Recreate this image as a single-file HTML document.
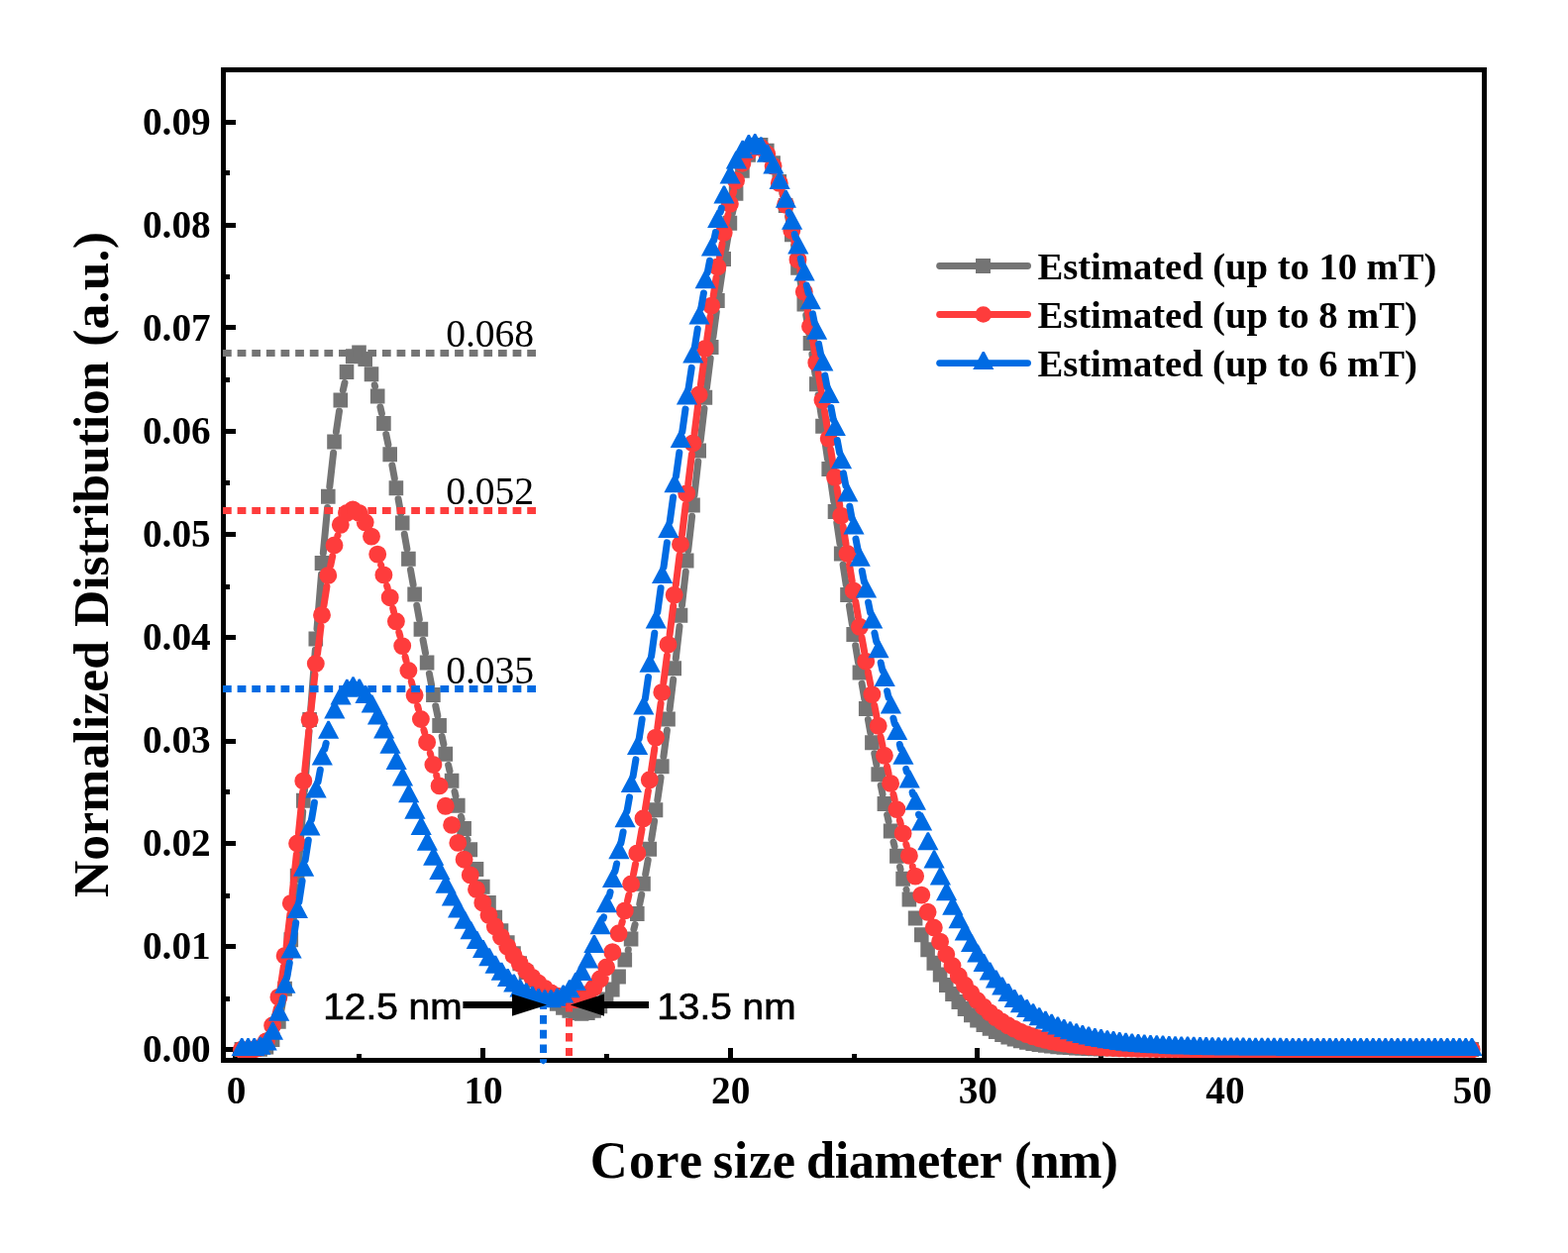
<!DOCTYPE html>
<html lang="en">
<head>
<meta charset="utf-8">
<title>Normalized Distribution vs Core size diameter</title>
<style>
html,body{margin:0;padding:0;background:#fff;}
body{width:1583px;height:1265px;overflow:hidden;}
svg{display:block;}
text{fill:#000;white-space:pre;}
.sb{font-family:"Liberation Serif",serif;font-weight:bold;}
.sr{font-family:"Liberation Serif",serif;font-weight:normal;}
.ss{font-family:"Liberation Sans",sans-serif;font-weight:normal;stroke:#000;stroke-width:0.7px;}
</style>
</head>
<body>
<svg width="1583" height="1265" viewBox="0 0 1583 1265">
<rect width="1583" height="1265" fill="#fff"/>

<g id="axes" fill="#000">
<path d="M223 68H1501V1073H223Z M228 73V1068H1496V73Z" fill-rule="evenodd"/>
<path d="M235 1058h5v10h-5zM360 1064h5v4h-5zM485 1058h5v10h-5zM610 1064h5v4h-5zM735 1058h5v10h-5zM860 1064h5v4h-5zM984 1058h5v10h-5zM1109 1064h5v4h-5zM1234 1058h5v10h-5zM1359 1064h5v4h-5zM1484 1058h5v10h-5zM228 1057h10v5h-10zM228 1006h4v5h-4zM228 953h10v5h-10zM228 902h4v5h-4zM228 849h10v5h-10zM228 797h4v5h-4zM228 746h10v5h-10zM228 693h4v5h-4zM228 641h10v5h-10zM228 590h4v5h-4zM228 537h10v5h-10zM228 485h4v5h-4zM228 433h10v5h-10zM228 381h4v5h-4zM228 328h10v5h-10zM228 277h4v5h-4zM228 225h10v5h-10zM228 172h4v5h-4zM228 121h10v5h-10z"/>
</g>
<clipPath id="plotclip"><rect x="228" y="73" width="1268" height="995"/></clipPath>
<g id="series" clip-path="url(#plotclip)">
<path d="M283.7 1021.3L285.9 1009.4M289.2 988.3L292.8 960.1M295.2 938.8L299.4 895.4M301.3 874.1L305.7 819.5M307.4 798.2L312 737.9M313.7 716.5L318.3 656.2M320 634.9L324.5 579.8M326.3 558.5L330.6 512.6M332.8 491.3L336.6 457.2M339.4 436L342.5 415.1M346.3 394.1L348 386.4M378.2 388.6L378.6 390.2M383.9 410.9L385.4 417.5M389.8 438.5L391.9 448.8M395.9 469.9L398.3 482.8M402.1 503.8L404.6 518.2M408.3 539.3L410.9 554.2M414.5 575.3L417.1 590.1M420.8 611.2L423.3 625.2M427.1 646.3L429.5 659.2M433.4 680.2L435.6 691.7M439.8 712.7L441.8 722.5M446.2 743.4L447.9 751.4M452.6 772.3L454 778.4M459 799.2L460 803.6M465.4 824.3L466.1 826.8M471.9 847.4L472.1 848.2M634.2 959.4L634.3 958.8M639.9 938.2L641.1 933.4M645.8 912.5L647.7 903.3M651.7 882.3L654.2 868.4M657.7 847.3L660.6 828.9M663.8 807.7L667.1 785M669.9 763.8L673.4 737.2M676.1 716L679.7 686.1M682.3 664.8L686 632.4M688.5 611.1L692.3 577.2M694.7 555.9L698.6 521.3M701 500.1L704.8 466.1M707.2 444.8L711 412.5M713.5 391.3L717.2 361.8M719.9 340.5L723.3 314.9M726.3 293.7L729.4 272.8M732.8 251.7L735.4 236.4M739.4 215.4L741.3 206.4M746.2 185.5L746.9 183.1M789.8 194.3L790.7 197.9M795.6 218.7L797.4 226.9M801.6 247.9L803.9 260.2M807.6 281.3L810.3 297M813.8 318.1L816.7 336.4M819.9 357.5L823 377.7M826.1 398.9L829.3 420.3M832.3 441.5L835.5 463.4M838.6 484.6L841.8 506.5M844.8 527.6L848 549M851.1 570.2L854.2 590.5M857.4 611.6L860.4 630.6M863.7 651.7L866.5 669M870.1 690.1L872.7 705.4M876.4 726.5L878.8 739.8M882.8 760.8L884.9 771.9M889.2 792.9L891 801.7M895.6 822.6L897.1 829.3M902 850.1L903.1 854.5M908.5 875.2L909.1 877.6M915 898.1L915.1 898.5" fill="none" stroke="#747474" stroke-width="7.0" stroke-linecap="round"/>
<path d="M236.6 1052.1h14.6v15h-14.6zM242.9 1052.1h14.6v15h-14.6zM249.1 1052.1h14.6v15h-14.6zM255.3 1051.7h14.6v15h-14.6zM261.6 1049.6h14.6v15h-14.6zM267.8 1041.9h14.6v15h-14.6zM274.1 1023.7h14.6v15h-14.6zM280.3 990.8h14.6v15h-14.6zM286.5 941.3h14.6v15h-14.6zM292.8 876.7h14.6v15h-14.6zM299 800.7h14.6v15h-14.6zM305.3 719.1h14.6v15h-14.6zM311.5 637.5h14.6v15h-14.6zM317.7 561h14.6v15h-14.6zM324 493.8h14.6v15h-14.6zM330.2 438.5h14.6v15h-14.6zM336.5 396.4h14.6v15h-14.6zM342.7 367.9h14.6v15h-14.6zM348.9 352.3h14.6v15h-14.6zM355.2 348.5h14.6v15h-14.6zM361.4 355.1h14.6v15h-14.6zM367.7 370.2h14.6v15h-14.6zM373.9 392.4h14.6v15h-14.6zM380.1 419.9h14.6v15h-14.6zM386.4 451.2h14.6v15h-14.6zM392.6 485.2h14.6v15h-14.6zM398.9 520.6h14.6v15h-14.6zM405.1 556.7h14.6v15h-14.6zM411.3 592.5h14.6v15h-14.6zM417.6 627.7h14.6v15h-14.6zM423.8 661.6h14.6v15h-14.6zM430.1 694.1h14.6v15h-14.6zM436.3 724.9h14.6v15h-14.6zM442.5 753.8h14.6v15h-14.6zM448.8 780.8h14.6v15h-14.6zM455 805.8h14.6v15h-14.6zM461.3 829h14.6v15h-14.6zM467.5 850.3h14.6v15h-14.6zM473.7 869.9h14.6v15h-14.6zM480 887.7h14.6v15h-14.6zM486.2 904h14.6v15h-14.6zM492.5 918.8h14.6v15h-14.6zM498.7 932.2h14.6v15h-14.6zM505 944.3h14.6v15h-14.6zM511.2 955.3h14.6v15h-14.6zM517.4 965.2h14.6v15h-14.6zM523.7 974.1h14.6v15h-14.6zM529.9 982.1h14.6v15h-14.6zM536.2 989.2h14.6v15h-14.6zM542.4 995.5h14.6v15h-14.6zM548.6 1001.1h14.6v15h-14.6zM554.9 1005.8h14.6v15h-14.6zM561.1 1009.8h14.6v15h-14.6zM567.4 1012.8h14.6v15h-14.6zM573.6 1014.9h14.6v15h-14.6zM579.8 1015.7h14.6v15h-14.6zM586.1 1015.1h14.6v15h-14.6zM592.3 1012.8h14.6v15h-14.6zM598.6 1008.3h14.6v15h-14.6zM604.8 1001.4h14.6v15h-14.6zM611 991.6h14.6v15h-14.6zM617.3 978.5h14.6v15h-14.6zM623.5 961.5h14.6v15h-14.6zM629.8 940.4h14.6v15h-14.6zM636 914.9h14.6v15h-14.6zM642.2 884.7h14.6v15h-14.6zM648.5 849.8h14.6v15h-14.6zM654.7 810.2h14.6v15h-14.6zM661 766.3h14.6v15h-14.6zM667.2 718.5h14.6v15h-14.6zM673.4 667.3h14.6v15h-14.6zM679.7 613.7h14.6v15h-14.6zM685.9 558.4h14.6v15h-14.6zM692.2 502.6h14.6v15h-14.6zM698.4 447.4h14.6v15h-14.6zM704.6 393.8h14.6v15h-14.6zM710.9 343h14.6v15h-14.6zM717.1 296.1h14.6v15h-14.6zM723.4 254.1h14.6v15h-14.6zM729.6 217.8h14.6v15h-14.6zM735.8 187.8h14.6v15h-14.6zM742.1 164.7h14.6v15h-14.6zM748.3 148.8h14.6v15h-14.6zM754.6 140.2h14.6v15h-14.6zM760.8 138.9h14.6v15h-14.6zM767 144.7h14.6v15h-14.6zM773.3 157.2h14.6v15h-14.6zM779.5 175.9h14.6v15h-14.6zM785.8 200.1h14.6v15h-14.6zM792 229.3h14.6v15h-14.6zM798.2 262.7h14.6v15h-14.6zM804.5 299.4h14.6v15h-14.6zM810.7 338.9h14.6v15h-14.6zM817 380.2h14.6v15h-14.6zM823.2 422.8h14.6v15h-14.6zM829.4 465.9h14.6v15h-14.6zM835.7 509h14.6v15h-14.6zM841.9 551.5h14.6v15h-14.6zM848.2 593h14.6v15h-14.6zM854.4 633.1h14.6v15h-14.6zM860.6 671.4h14.6v15h-14.6zM866.9 707.9h14.6v15h-14.6zM873.1 742.2h14.6v15h-14.6zM879.4 774.3h14.6v15h-14.6zM885.6 804.1h14.6v15h-14.6zM891.8 831.6h14.6v15h-14.6zM898.1 856.8h14.6v15h-14.6zM904.3 879.8h14.6v15h-14.6zM910.6 900.6h14.6v15h-14.6zM916.8 919.4h14.6v15h-14.6zM923 936.2h14.6v15h-14.6zM929.3 951.3h14.6v15h-14.6zM935.5 964.7h14.6v15h-14.6zM941.8 976.5h14.6v15h-14.6zM948 986.9h14.6v15h-14.6zM954.2 996.1h14.6v15h-14.6zM960.5 1004.1h14.6v15h-14.6zM966.7 1011.1h14.6v15h-14.6zM973 1017.2h14.6v15h-14.6zM979.2 1022.4h14.6v15h-14.6zM985.5 1026.9h14.6v15h-14.6zM991.7 1030.8h14.6v15h-14.6zM997.9 1034.1h14.6v15h-14.6zM1004.2 1037h14.6v15h-14.6zM1010.4 1039.4h14.6v15h-14.6zM1016.7 1041.4h14.6v15h-14.6zM1022.9 1043.2h14.6v15h-14.6zM1029.1 1044.7h14.6v15h-14.6zM1035.4 1045.9h14.6v15h-14.6zM1041.6 1047h14.6v15h-14.6zM1047.9 1047.8h14.6v15h-14.6zM1054.1 1048.6h14.6v15h-14.6zM1060.3 1049.2h14.6v15h-14.6zM1066.6 1049.7h14.6v15h-14.6zM1072.8 1050.1h14.6v15h-14.6zM1079.1 1050.5h14.6v15h-14.6zM1085.3 1050.8h14.6v15h-14.6zM1091.5 1051h14.6v15h-14.6zM1097.8 1051.2h14.6v15h-14.6zM1104 1051.4h14.6v15h-14.6zM1110.3 1051.5h14.6v15h-14.6zM1116.5 1051.6h14.6v15h-14.6zM1122.7 1051.7h14.6v15h-14.6zM1129 1051.8h14.6v15h-14.6zM1135.2 1051.8h14.6v15h-14.6zM1141.5 1051.9h14.6v15h-14.6zM1147.7 1051.9h14.6v15h-14.6zM1153.9 1052h14.6v15h-14.6zM1160.2 1052h14.6v15h-14.6zM1166.4 1052h14.6v15h-14.6zM1172.7 1052h14.6v15h-14.6zM1178.9 1052h14.6v15h-14.6zM1185.1 1052h14.6v15h-14.6zM1191.4 1052.1h14.6v15h-14.6zM1197.6 1052.1h14.6v15h-14.6zM1203.9 1052.1h14.6v15h-14.6zM1210.1 1052.1h14.6v15h-14.6zM1216.3 1052.1h14.6v15h-14.6zM1222.6 1052.1h14.6v15h-14.6zM1228.8 1052.1h14.6v15h-14.6zM1235.1 1052.1h14.6v15h-14.6zM1241.3 1052.1h14.6v15h-14.6zM1247.5 1052.1h14.6v15h-14.6zM1253.8 1052.1h14.6v15h-14.6zM1260 1052.1h14.6v15h-14.6zM1266.3 1052.1h14.6v15h-14.6zM1272.5 1052.1h14.6v15h-14.6zM1278.7 1052.1h14.6v15h-14.6zM1285 1052.1h14.6v15h-14.6zM1291.2 1052.1h14.6v15h-14.6zM1297.5 1052.1h14.6v15h-14.6zM1303.7 1052.1h14.6v15h-14.6zM1309.9 1052.1h14.6v15h-14.6zM1316.2 1052.1h14.6v15h-14.6zM1322.4 1052.1h14.6v15h-14.6zM1328.7 1052.1h14.6v15h-14.6zM1334.9 1052.1h14.6v15h-14.6zM1341.1 1052.1h14.6v15h-14.6zM1347.4 1052.1h14.6v15h-14.6zM1353.6 1052.1h14.6v15h-14.6zM1359.9 1052.1h14.6v15h-14.6zM1366.1 1052.1h14.6v15h-14.6zM1372.3 1052.1h14.6v15h-14.6zM1378.6 1052.1h14.6v15h-14.6zM1384.8 1052.1h14.6v15h-14.6zM1391.1 1052.1h14.6v15h-14.6zM1397.3 1052.1h14.6v15h-14.6zM1403.5 1052.1h14.6v15h-14.6zM1409.8 1052.1h14.6v15h-14.6zM1416 1052.1h14.6v15h-14.6zM1422.3 1052.1h14.6v15h-14.6zM1428.5 1052.1h14.6v15h-14.6zM1434.7 1052.1h14.6v15h-14.6zM1441 1052.1h14.6v15h-14.6zM1447.2 1052.1h14.6v15h-14.6zM1453.5 1052.1h14.6v15h-14.6zM1459.7 1052.1h14.6v15h-14.6zM1465.9 1052.1h14.6v15h-14.6zM1472.2 1052.1h14.6v15h-14.6zM1478.4 1052.1h14.6v15h-14.6z" fill="#747474"/>
<path d="M277.7 1025.4L279.4 1017.8M283.2 996.8L286.3 976.1M289.2 954.9L292.9 923.1M295.2 901.9L299.3 862.8M301.4 841.5L305.6 799.6M307.7 778.3L311.8 737.9M314 716.6L317.9 681.3M320.5 660L324 632.2M327 611L329.9 592.1M333.7 571L335.7 561.6M340.9 540.9L341 540.6M384.6 570.4L384.7 570.7M390.6 591.3L391.2 593.5M396.7 614.2L397.5 617.6M402.8 638.3L403.9 642.3M409.1 663.1L410.1 667.3M415.3 688L416.3 692M421.6 712.7L422.5 716.2M427.9 736.9L428.7 739.7M434.3 760.3L434.8 762.2M440.7 782.8L440.9 783.8M627.7 932.6L628.3 930.3M633.5 909.6L634.9 903.5M639.5 882.6L641.5 872.5M645.5 851.5L648 837.4M651.5 816.3L654.4 798.4M657.6 777.3L660.8 755.8M663.8 734.6L667.1 710.1M669.9 688.9L673.4 661.9M676.1 640.7L679.7 611.8M682.3 590.6L686 560.7M688.6 539.5L692.2 509.4M694.8 488.2L698.4 458.8M701.1 437.5L704.6 409.7M707.4 388.5L710.8 363.1M713.8 341.9L717 319.9M720.2 298.7L723 280.6M726.6 259.5L729.1 246.1M733.2 225.1L735 216.8M739.9 196L740.7 193.2M790.1 195.7L790.4 197M795.9 217.7L797.1 222.9M801.8 243.7L803.6 252.3M807.9 273.3L810.1 284.7M814 305.8L816.4 319.6M820.1 340.6L822.8 356.2M826.3 377.3L829.1 394.2M832.5 415.3L835.3 432.8M838.7 454L841.6 471.8M845 493L847.8 510.7M851.2 531.8L854 549M857.5 570.1L860.2 586.5M863.8 607.6L866.4 622.8M870.1 643.9L872.6 657.8M876.4 678.8L878.8 691.2M882.8 712.2L884.9 722.9M889.1 743.9L891 752.9M895.5 773.8L897.1 781M901.9 801.9L903.2 807.3M908.3 828.1L909.3 831.7M914.8 852.3L915.3 854.2M921.3 874.8L921.3 875" fill="none" stroke="#fe3c3c" stroke-width="7.0" stroke-linecap="round"/>
<path d="M243.9 1059.6h0M250.2 1059.6h0M256.4 1059.4h0M262.6 1057.7h0M268.9 1051.2h0M275.1 1035.3h0M281.4 1006.7h0M287.6 964.9h0M293.8 911.9h0M300.1 851.5h0M306.3 788.4h0M312.6 726.7h0M318.8 670h0M325 620.9h0M331.3 580.9h0M337.5 550.5h0M343.8 529.8h0M350 518h0M356.2 514.4h0M362.5 517.9h0M368.7 527.3h0M375 541.6h0M381.2 559.6h0M387.4 580.4h0M393.7 603.2h0M399.9 627.3h0M406.2 652.1h0M412.4 677h0M418.6 701.8h0M424.9 726h0M431.1 749.4h0M437.4 772h0M443.6 793.4h0M449.8 813.8h0M456.1 832.9h0M462.3 850.9h0M468.6 867.7h0M474.8 883.4h0M481 897.9h0M487.3 911.4h0M493.5 923.8h0M499.8 935.3h0M506 945.9h0M512.3 955.6h0M518.5 964.5h0M524.7 972.6h0M531 980h0M537.2 986.6h0M543.5 992.5h0M549.7 997.7h0M555.9 1002.1h0M562.2 1005.5h0M568.4 1008h0M574.7 1009.2h0M580.9 1009.1h0M587.1 1007.2h0M593.4 1003.4h0M599.6 997.2h0M605.9 988.3h0M612.1 976.5h0M618.3 961.2h0M624.6 942.3h0M630.8 919.4h0M637.1 892.5h0M643.3 861.4h0M649.5 826.3h0M655.8 787.3h0M662 744.6h0M668.3 698.9h0M674.5 650.7h0M680.7 600.6h0M687 549.5h0M693.2 498.2h0M699.5 447.5h0M705.7 398.5h0M711.9 351.9h0M718.2 308.7h0M724.4 269.5h0M730.7 235h0M736.9 205.8h0M743.1 182.3h0M749.4 164.7h0M755.6 153.3h0M761.9 148.1h0M768.1 148.9h0M774.3 155.5h0M780.6 167.6h0M786.8 184.9h0M793.1 206.7h0M799.3 232.7h0M805.5 262.2h0M811.8 294.6h0M818 329.5h0M824.3 366.2h0M830.5 404.1h0M836.7 442.8h0M843 481.8h0M849.2 520.6h0M855.5 559h0M861.7 596.4h0M867.9 632.8h0M874.2 667.7h0M880.4 701.1h0M886.7 732.8h0M892.9 762.8h0M899.1 790.9h0M905.4 817.1h0M911.6 841.4h0M917.9 863.9h0M924.1 884.6h0M930.3 903.6h0M936.6 920.8h0M942.8 936.5h0M949.1 950.7h0M955.3 963.5h0M961.5 975h0M967.8 985.3h0M974 994.5h0M980.3 1002.7h0M986.5 1010h0M992.8 1016.4h0M999 1022.1h0M1005.2 1027.1h0M1011.5 1031.5h0M1017.7 1035.3h0M1024 1038.6h0M1030.2 1041.6h0M1036.4 1044.1h0M1042.7 1046.3h0M1048.9 1048.2h0M1055.2 1049.9h0M1061.4 1051.3h0M1067.6 1052.5h0M1073.9 1053.6h0M1080.1 1054.5h0M1086.4 1055.2h0M1092.6 1055.9h0M1098.8 1056.5h0M1105.1 1056.9h0M1111.3 1057.3h0M1117.6 1057.7h0M1123.8 1058h0M1130 1058.2h0M1136.3 1058.5h0M1142.5 1058.6h0M1148.8 1058.8h0M1155 1058.9h0M1161.2 1059h0M1167.5 1059.1h0M1173.7 1059.2h0M1180 1059.3h0M1186.2 1059.3h0M1192.4 1059.4h0M1198.7 1059.4h0M1204.9 1059.4h0M1211.2 1059.5h0M1217.4 1059.5h0M1223.6 1059.5h0M1229.9 1059.5h0M1236.1 1059.5h0M1242.4 1059.5h0M1248.6 1059.5h0M1254.8 1059.6h0M1261.1 1059.6h0M1267.3 1059.6h0M1273.6 1059.6h0M1279.8 1059.6h0M1286 1059.6h0M1292.3 1059.6h0M1298.5 1059.6h0M1304.8 1059.6h0M1311 1059.6h0M1317.2 1059.6h0M1323.5 1059.6h0M1329.7 1059.6h0M1336 1059.6h0M1342.2 1059.6h0M1348.4 1059.6h0M1354.7 1059.6h0M1360.9 1059.6h0M1367.2 1059.6h0M1373.4 1059.6h0M1379.6 1059.6h0M1385.9 1059.6h0M1392.1 1059.6h0M1398.4 1059.6h0M1404.6 1059.6h0M1410.8 1059.6h0M1417.1 1059.6h0M1423.3 1059.6h0M1429.6 1059.6h0M1435.8 1059.6h0M1442 1059.6h0M1448.3 1059.6h0M1454.5 1059.6h0M1460.8 1059.6h0M1467 1059.6h0M1473.2 1059.6h0M1479.5 1059.6h0M1485.7 1059.6h0" fill="none" stroke="#fe3c3c" stroke-width="17.9" stroke-linecap="round"/>
<path d="M284 1014.5L285.6 1007.4M289.8 986.5L292.3 972.1M295.8 951L298.7 931.7M301.9 910.6L305.1 889.5M308.2 868.3L311.3 848.2M314.6 827.1L317.4 810.3M321.1 789.2L323.3 777.3M327.8 756.4L329.2 750.4M609.1 927.2L609.5 925.8M615 905.2L616.1 900.6M620.9 879.7L622.6 872M626.9 851L629.1 840M633 819L635.5 804.9M639.1 783.8L641.9 766.9M645.2 745.7L648.2 726.3M651.4 705.2L654.5 683.6M657.6 662.4L660.8 639.3M663.8 618.1L667.1 593.8M670 572.6L673.4 547.9M676.2 526.7L679.6 502M682.5 480.8L685.8 456.9M688.8 435.7L692 413.1M695.1 392L698.2 371.4M701.4 350.2L704.3 332.1M707.8 311L710.4 296M714.3 274.9L716.5 263.3M720.8 242.4L722.4 234.6M727.4 213.8L728.3 210.1M796.3 214.3L796.7 215.7M802.2 236.3L803.2 240.2M808.3 261L809.7 267.1M814.3 288L816.1 296M820.5 316.9L822.4 326.4M826.6 347.4L828.7 358.1M832.8 379.1L835 390.6M839 411.6L841.3 423.6M845.3 444.6L847.6 456.9M851.5 477.9L853.8 490.1M857.8 511.2L860 523.1M864 544.1L866.2 555.5M870.3 576.5L872.4 587.3M876.6 608.3L878.6 618.2M882.9 639.1L884.8 648M889.2 669L890.9 676.8M895.6 697.7L897.1 704.4M901.9 725.2L903.2 730.7M908.3 751.5L909.3 755.6M914.7 776.4L915.4 779.3M921.1 799.9L921.5 801.6M927.5 822.2L927.6 822.6" fill="none" stroke="#006be3" stroke-width="7.0" stroke-linecap="round"/>
<path d="M243.2 1048h2l9.6 18h-21.2zM249.5 1048h2l9.6 18h-21.2zM255.7 1047.9h2l9.6 18h-21.2zM261.9 1046.8h2l9.6 18h-21.2zM268.2 1042.4h2l9.6 18h-21.2zM274.4 1031.8h2l9.6 18h-21.2zM280.7 1012.7h2l9.6 18h-21.2zM286.9 984.8h2l9.6 18h-21.2zM293.1 949.4h2l9.6 18h-21.2zM299.4 909h2l9.6 18h-21.2zM305.6 866.7h2l9.6 18h-21.2zM311.9 825.4h2l9.6 18h-21.2zM318.1 787.5h2l9.6 18h-21.2zM324.3 754.6h2l9.6 18h-21.2zM330.6 727.8h2l9.6 18h-21.2zM336.8 707.5h2l9.6 18h-21.2zM343.1 693.6h2l9.6 18h-21.2zM349.3 685.7h2l9.6 18h-21.2zM355.5 683.3h2l9.6 18h-21.2zM361.8 685.6h2l9.6 18h-21.2zM368 691.9h2l9.6 18h-21.2zM374.3 701.5h2l9.6 18h-21.2zM380.5 713.5h2l9.6 18h-21.2zM386.7 727.5h2l9.6 18h-21.2zM393 742.8h2l9.6 18h-21.2zM399.2 758.9h2l9.6 18h-21.2zM405.5 775.5h2l9.6 18h-21.2zM411.7 792.2h2l9.6 18h-21.2zM417.9 808.8h2l9.6 18h-21.2zM424.2 825h2l9.6 18h-21.2zM430.4 840.7h2l9.6 18h-21.2zM436.7 855.7h2l9.6 18h-21.2zM442.9 870.1h2l9.6 18h-21.2zM449.1 883.7h2l9.6 18h-21.2zM455.4 896.5h2l9.6 18h-21.2zM461.6 908.6h2l9.6 18h-21.2zM467.9 919.8h2l9.6 18h-21.2zM474.1 930.3h2l9.6 18h-21.2zM480.3 940h2l9.6 18h-21.2zM486.6 949h2l9.6 18h-21.2zM492.8 957.2h2l9.6 18h-21.2zM499.1 964.8h2l9.6 18h-21.2zM505.3 971.7h2l9.6 18h-21.2zM511.6 978h2l9.6 18h-21.2zM517.8 983.5h2l9.6 18h-21.2zM524 988.4h2l9.6 18h-21.2zM530.3 992.5h2l9.6 18h-21.2zM536.5 995.7h2l9.6 18h-21.2zM542.8 998h2l9.6 18h-21.2zM549 999.2h2l9.6 18h-21.2zM555.2 999.2h2l9.6 18h-21.2zM561.5 997.7h2l9.6 18h-21.2zM567.7 994.5h2l9.6 18h-21.2zM574 989.3h2l9.6 18h-21.2zM580.2 981.9h2l9.6 18h-21.2zM586.4 972.1h2l9.6 18h-21.2zM592.7 959.5h2l9.6 18h-21.2zM598.9 944h2l9.6 18h-21.2zM605.2 925.3h2l9.6 18h-21.2zM611.4 903.3h2l9.6 18h-21.2zM617.6 878h2l9.6 18h-21.2zM623.9 849.3h2l9.6 18h-21.2zM630.1 817.3h2l9.6 18h-21.2zM636.4 782.1h2l9.6 18h-21.2zM642.6 744.1h2l9.6 18h-21.2zM648.8 703.5h2l9.6 18h-21.2zM655.1 660.8h2l9.6 18h-21.2zM661.3 616.5h2l9.6 18h-21.2zM667.6 571h2l9.6 18h-21.2zM673.8 525.1h2l9.6 18h-21.2zM680 479.2h2l9.6 18h-21.2zM686.3 434.1h2l9.6 18h-21.2zM692.5 390.4h2l9.6 18h-21.2zM698.8 348.6h2l9.6 18h-21.2zM705 309.4h2l9.6 18h-21.2zM711.2 273.2h2l9.6 18h-21.2zM717.5 240.6h2l9.6 18h-21.2zM723.7 212h2l9.6 18h-21.2zM730 187.6h2l9.6 18h-21.2zM736.2 167.6h2l9.6 18h-21.2zM742.4 152.4h2l9.6 18h-21.2zM748.7 141.8h2l9.6 18h-21.2zM754.9 136h2l9.6 18h-21.2zM761.2 134.9h2l9.6 18h-21.2zM767.4 138.2h2l9.6 18h-21.2zM773.6 145.8h2l9.6 18h-21.2zM779.9 157.5h2l9.6 18h-21.2zM786.1 173h2l9.6 18h-21.2zM792.4 191.8h2l9.6 18h-21.2zM798.6 213.8h2l9.6 18h-21.2zM804.8 238.4h2l9.6 18h-21.2zM811.1 265.4h2l9.6 18h-21.2zM817.3 294.2h2l9.6 18h-21.2zM823.6 324.7h2l9.6 18h-21.2zM829.8 356.4h2l9.6 18h-21.2zM836 388.9h2l9.6 18h-21.2zM842.3 421.9h2l9.6 18h-21.2zM848.5 455.2h2l9.6 18h-21.2zM854.8 488.4h2l9.6 18h-21.2zM861 521.4h2l9.6 18h-21.2zM867.2 553.8h2l9.6 18h-21.2zM873.5 585.6h2l9.6 18h-21.2zM879.7 616.4h2l9.6 18h-21.2zM886 646.3h2l9.6 18h-21.2zM892.2 675.1h2l9.6 18h-21.2zM898.4 702.6h2l9.6 18h-21.2zM904.7 728.9h2l9.6 18h-21.2zM910.9 753.8h2l9.6 18h-21.2zM917.2 777.4h2l9.6 18h-21.2zM923.4 799.7h2l9.6 18h-21.2zM929.6 820.6h2l9.6 18h-21.2zM935.9 840.2h2l9.6 18h-21.2zM942.1 858.4h2l9.6 18h-21.2zM948.4 875.4h2l9.6 18h-21.2zM954.6 891.2h2l9.6 18h-21.2zM960.8 905.8h2l9.6 18h-21.2zM967.1 919.2h2l9.6 18h-21.2zM973.3 931.6h2l9.6 18h-21.2zM979.6 943h2l9.6 18h-21.2zM985.8 953.4h2l9.6 18h-21.2zM992.1 962.9h2l9.6 18h-21.2zM998.3 971.6h2l9.6 18h-21.2zM1004.5 979.4h2l9.6 18h-21.2zM1010.8 986.6h2l9.6 18h-21.2zM1017 993.1h2l9.6 18h-21.2zM1023.3 999h2l9.6 18h-21.2zM1029.5 1004.3h2l9.6 18h-21.2zM1035.7 1009h2l9.6 18h-21.2zM1042 1013.3h2l9.6 18h-21.2zM1048.2 1017.2h2l9.6 18h-21.2zM1054.5 1020.7h2l9.6 18h-21.2zM1060.7 1023.8h2l9.6 18h-21.2zM1066.9 1026.5h2l9.6 18h-21.2zM1073.2 1029h2l9.6 18h-21.2zM1079.4 1031.2h2l9.6 18h-21.2zM1085.7 1033.2h2l9.6 18h-21.2zM1091.9 1034.9h2l9.6 18h-21.2zM1098.1 1036.5h2l9.6 18h-21.2zM1104.4 1037.9h2l9.6 18h-21.2zM1110.6 1039.1h2l9.6 18h-21.2zM1116.9 1040.2h2l9.6 18h-21.2zM1123.1 1041.1h2l9.6 18h-21.2zM1129.3 1042h2l9.6 18h-21.2zM1135.6 1042.7h2l9.6 18h-21.2zM1141.8 1043.4h2l9.6 18h-21.2zM1148.1 1043.9h2l9.6 18h-21.2zM1154.3 1044.4h2l9.6 18h-21.2zM1160.5 1044.9h2l9.6 18h-21.2zM1166.8 1045.3h2l9.6 18h-21.2zM1173 1045.6h2l9.6 18h-21.2zM1179.3 1045.9h2l9.6 18h-21.2zM1185.5 1046.2h2l9.6 18h-21.2zM1191.7 1046.4h2l9.6 18h-21.2zM1198 1046.6h2l9.6 18h-21.2zM1204.2 1046.8h2l9.6 18h-21.2zM1210.5 1047h2l9.6 18h-21.2zM1216.7 1047.1h2l9.6 18h-21.2zM1222.9 1047.2h2l9.6 18h-21.2zM1229.2 1047.3h2l9.6 18h-21.2zM1235.4 1047.4h2l9.6 18h-21.2zM1241.7 1047.5h2l9.6 18h-21.2zM1247.9 1047.6h2l9.6 18h-21.2zM1254.1 1047.6h2l9.6 18h-21.2zM1260.4 1047.7h2l9.6 18h-21.2zM1266.6 1047.7h2l9.6 18h-21.2zM1272.9 1047.7h2l9.6 18h-21.2zM1279.1 1047.8h2l9.6 18h-21.2zM1285.3 1047.8h2l9.6 18h-21.2zM1291.6 1047.8h2l9.6 18h-21.2zM1297.8 1047.9h2l9.6 18h-21.2zM1304.1 1047.9h2l9.6 18h-21.2zM1310.3 1047.9h2l9.6 18h-21.2zM1316.5 1047.9h2l9.6 18h-21.2zM1322.8 1047.9h2l9.6 18h-21.2zM1329 1047.9h2l9.6 18h-21.2zM1335.3 1047.9h2l9.6 18h-21.2zM1341.5 1047.9h2l9.6 18h-21.2zM1347.7 1048h2l9.6 18h-21.2zM1354 1048h2l9.6 18h-21.2zM1360.2 1048h2l9.6 18h-21.2zM1366.5 1048h2l9.6 18h-21.2zM1372.7 1048h2l9.6 18h-21.2zM1378.9 1048h2l9.6 18h-21.2zM1385.2 1048h2l9.6 18h-21.2zM1391.4 1048h2l9.6 18h-21.2zM1397.7 1048h2l9.6 18h-21.2zM1403.9 1048h2l9.6 18h-21.2zM1410.1 1048h2l9.6 18h-21.2zM1416.4 1048h2l9.6 18h-21.2zM1422.6 1048h2l9.6 18h-21.2zM1428.9 1048h2l9.6 18h-21.2zM1435.1 1048h2l9.6 18h-21.2zM1441.3 1048h2l9.6 18h-21.2zM1447.6 1048h2l9.6 18h-21.2zM1453.8 1048h2l9.6 18h-21.2zM1460.1 1048h2l9.6 18h-21.2zM1466.3 1048h2l9.6 18h-21.2zM1472.5 1048h2l9.6 18h-21.2zM1478.8 1048h2l9.6 18h-21.2zM1485 1048h2l9.6 18h-21.2z" fill="#006be3"/>
</g>
<g id="guides" fill="none" stroke-width="7">
<path d="M225 356.5H541" stroke="#747474" stroke-dasharray="8.75 5.88"/>
<path d="M225 515.5H541" stroke="#fe3c3c" stroke-dasharray="8.75 5.88"/>
<path d="M225 695.5H541" stroke="#006be3" stroke-dasharray="8.75 5.88"/>
<path d="M548.5 1010.3V1063" stroke="#006be3" stroke-dasharray="8.8 5.9"/>
<path d="M574.5 1013V1066" stroke="#fe3c3c" stroke-dasharray="8.6 6.4"/>
</g>
<g id="arrows" fill="#000" stroke="none">
<rect x="467.4" y="1011" width="52" height="7"/>
<path d="M517 1003.6L552 1014.6L517 1025.8Z"/>
<rect x="608" y="1011" width="47" height="7"/>
<path d="M610 1003.6L575.8 1014.6L610 1025.8Z"/>
</g>
<path d="M545 1069.2h7v3l-3.5 2.2l-3.5 -2.2z" fill="#006be3"/>
<g id="legend">
<path d="M948.6 268.5H1037.6" stroke="#747474" stroke-width="6.8" stroke-linecap="round" fill="none"/>
<rect x="985" y="261.0" width="15" height="15" fill="#747474"/>
<path d="M948.6 317.5H1037.6" stroke="#fe3c3c" stroke-width="6.8" stroke-linecap="round" fill="none"/>
<circle cx="992.7" cy="317.5" r="8.3" fill="#fe3c3c"/>
<path d="M948.6 366.6H1037.6" stroke="#006be3" stroke-width="6.8" stroke-linecap="round" fill="none"/>
<path d="M991.8 355h2l9.6 18h-21.2z" fill="#006be3"/>
</g>
<g id="labels">
<text x="143.9" y="1072.0" class="sb" font-size="39.3" textLength="68.8" lengthAdjust="spacing">0.00</text>
<text x="143.9" y="968.0" class="sb" font-size="39.3" textLength="68.8" lengthAdjust="spacing">0.01</text>
<text x="143.9" y="864.0" class="sb" font-size="39.3" textLength="68.8" lengthAdjust="spacing">0.02</text>
<text x="143.9" y="759.9" class="sb" font-size="39.3" textLength="68.8" lengthAdjust="spacing">0.03</text>
<text x="143.9" y="655.9" class="sb" font-size="39.3" textLength="68.8" lengthAdjust="spacing">0.04</text>
<text x="143.9" y="551.9" class="sb" font-size="39.3" textLength="68.8" lengthAdjust="spacing">0.05</text>
<text x="143.9" y="447.9" class="sb" font-size="39.3" textLength="68.8" lengthAdjust="spacing">0.06</text>
<text x="143.9" y="343.9" class="sb" font-size="39.3" textLength="68.8" lengthAdjust="spacing">0.07</text>
<text x="143.9" y="239.8" class="sb" font-size="39.3" textLength="68.8" lengthAdjust="spacing">0.08</text>
<text x="143.9" y="135.8" class="sb" font-size="39.3" textLength="68.8" lengthAdjust="spacing">0.09</text>
<text x="238.5" y="1114.2" class="sb" font-size="39.3" text-anchor="middle">0</text>
<text x="488.1" y="1114.2" class="sb" font-size="39.3" text-anchor="middle">10</text>
<text x="737.7" y="1114.2" class="sb" font-size="39.3" text-anchor="middle">20</text>
<text x="987.3" y="1114.2" class="sb" font-size="39.3" text-anchor="middle">30</text>
<text x="1236.9" y="1114.2" class="sb" font-size="39.3" text-anchor="middle">40</text>
<text x="1486.5" y="1114.2" class="sb" font-size="39.3" text-anchor="middle">50</text>
<text y="1188.6" class="sb" font-size="52.5"><tspan x="595.8" style="letter-spacing:1.167px">Core </tspan><tspan x="719.8" style="letter-spacing:0.533px">size </tspan><tspan x="814.0" style="letter-spacing:-0.471px">diameter </tspan><tspan x="1023.9" style="letter-spacing:-0.933px">(nm)</tspan></text>
<text y="905.0" class="sb" font-size="51.6" transform="rotate(-90 109.2 905.0)"><tspan x="108.2" style="letter-spacing:0.122px">Normalized </tspan><tspan x="381.3" style="letter-spacing:-0.118px">Distribution </tspan><tspan x="664.4" style="letter-spacing:0.2px">(a.u.)</tspan></text>
<text x="1047.5" y="281.7" class="sb" font-size="38.7" textLength="402.9" lengthAdjust="spacing">Estimated (up to 10 mT)</text>
<text x="1047.5" y="330.8" class="sb" font-size="38.7" textLength="383.3" lengthAdjust="spacing">Estimated (up to 8 mT)</text>
<text x="1047.5" y="379.8" class="sb" font-size="38.7" textLength="383.3" lengthAdjust="spacing">Estimated (up to 6 mT)</text>
<text x="450.2" y="349.8" class="sr" font-size="39.7" textLength="88.9" lengthAdjust="spacing">0.068</text>
<text x="450.2" y="508.8" class="sr" font-size="39.7" textLength="88.9" lengthAdjust="spacing">0.052</text>
<text x="450.2" y="689.8" class="sr" font-size="39.7" textLength="88.9" lengthAdjust="spacing">0.035</text>
<text x="326.2" y="1028.9" class="ss" font-size="37.5" textLength="140.4" lengthAdjust="spacingAndGlyphs">12.5 nm</text>
<text x="663.2" y="1028.9" class="ss" font-size="37.5" textLength="140.4" lengthAdjust="spacingAndGlyphs">13.5 nm</text>
</g>
</svg>
</body>
</html>
